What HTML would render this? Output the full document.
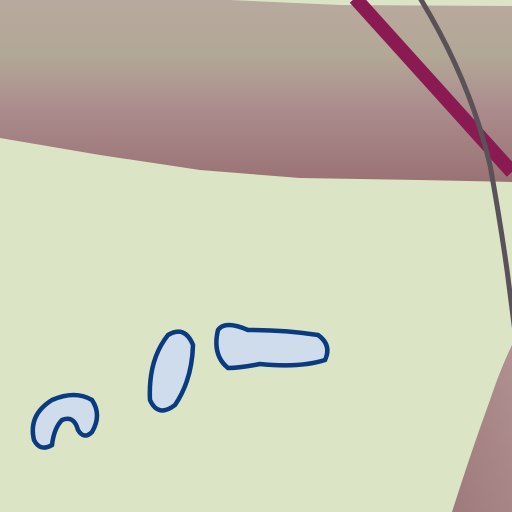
<!DOCTYPE html>
<html><head><meta charset="utf-8"><style>html,body{margin:0;padding:0;background:#dce4c6}svg{display:block}</style></head>
<body>
<svg width="512" height="512" viewBox="0 0 512 512">
<defs>
<linearGradient id="band" x1="0" y1="0" x2="0" y2="1">
<stop offset="0" stop-color="#b8a99e"/>
<stop offset="0.3" stop-color="#b2a896"/>
<stop offset="0.6" stop-color="#ab8c8d"/>
<stop offset="1" stop-color="#9a7274"/>
</linearGradient>
<linearGradient id="corner" x1="1" y1="0" x2="0" y2="1">
<stop offset="0" stop-color="#b09090"/>
<stop offset="1" stop-color="#9e7a7b"/>
</linearGradient>
</defs>
<rect width="512" height="512" fill="#dce4c6"/>
<path d="M0,0 L512,0 L512,182 L420,180 L300,178 L200,170 L100,155 L0,138 Z" fill="url(#band)"/>
<path d="M230,0 L512,0 L512,6 L340,5 Z" fill="#dce4c6"/>
<path d="M512,345 Q500,370 490,400 Q470,455 452,512 L512,512 Z" fill="url(#corner)"/>
<path d="M355,-2 L512,172" stroke="#8a1a52" stroke-width="14" fill="none"/>
<path d="M420,-2 Q470,80 490,165 Q500,220 507,270 Q512,310 516,340" stroke="#5a5258" stroke-width="5" fill="none"/>
<g fill="#cfdcec" stroke="#0a3a80" stroke-width="4.5">
<path d="M34,440 Q28,415 52,400 Q75,390 92,400 Q102,415 92,432 Q84,440 78,430 Q74,415 62,420 Q54,428 52,445 Q40,452 34,440 Z"/>
<path d="M150,400 Q148,360 168,335 Q185,325 193,345 Q192,380 175,405 Q158,418 150,400 Z"/>
<path d="M218,330 Q225,320 248,330 Q285,330 318,335 Q332,345 325,360 Q300,368 260,364 Q240,368 228,368 Q212,355 218,330 Z"/>
</g>
</svg>
</body></html>
